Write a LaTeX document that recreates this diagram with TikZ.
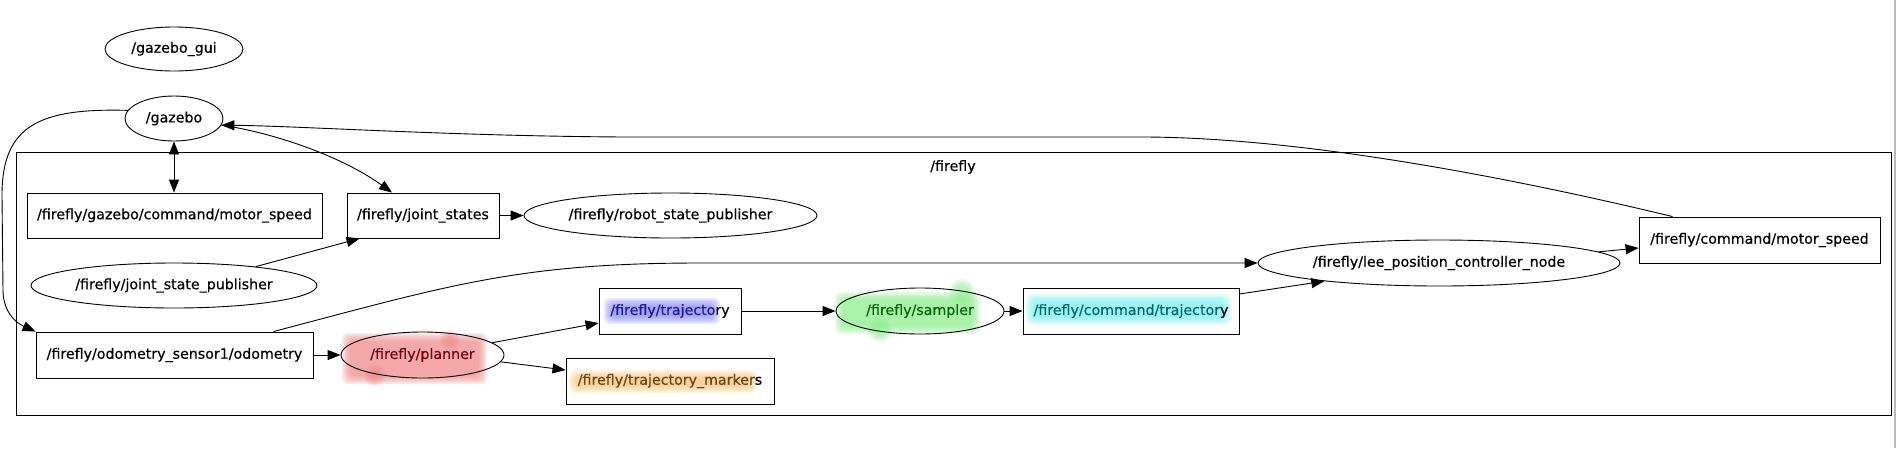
\documentclass[tikz,border=0pt]{standalone}
\usepackage{fontspec}
\setmainfont[FakeBold=0.5]{DejaVu Sans}
\usetikzlibrary{arrows.meta,shapes.geometric,calc}
\definecolor{hlred}{RGB}{240,130,130}
\definecolor{txred}{RGB}{115,5,5}
\definecolor{hlblue}{RGB}{125,125,255}
\definecolor{txblue}{RGB}{30,30,135}
\definecolor{hlgreen}{RGB}{130,238,130}
\definecolor{txgreen}{RGB}{0,105,0}
\definecolor{hlcyan}{RGB}{110,242,242}
\definecolor{txcyan}{RGB}{0,105,105}
\definecolor{hlorange}{RGB}{255,190,110}
\definecolor{txorange}{RGB}{105,70,20}
\newcommand{\softblob}[5]{%
  \foreach \k in {0,1,2,3,4,5}{%
    \fill[#1, fill opacity=0.17, rounded corners=6pt] ($(#2,#3)+(1.6*\k,1.6*\k)$) rectangle ($(#4,#5)-(1.6*\k,1.6*\k)$);
  }}
\newcommand{\softdot}[4]{%
  \foreach \k in {0,1,2,3}{%
    \fill[#1, fill opacity=0.17] (#2,#3) circle ({#4-2*\k});
  }}
\begin{document}
\begin{tikzpicture}[x=1pt,y=-1pt,
  every node/.style={font=\fontsize{14.2}{17}\selectfont, inner sep=0pt, line width=0.9pt},
  topic/.style={draw, rectangle, minimum width=#1, minimum height=46pt},
  rosnode/.style={draw, ellipse, minimum width=#1, minimum height=45pt},
  edge/.style={line width=0.9pt, -{Triangle[length=13pt,width=10pt]}},
  biedge/.style={line width=0.9pt, {Triangle[length=13pt,width=10pt]}-{Triangle[length=13pt,width=10pt]}},
]
\useasboundingbox (0,0) rectangle (1898,448);
\fill[white] (0,0) rectangle (1898,448);
\draw[gray!55, line width=1.5pt] (1895,0) -- (1895,448);

% highlights
\softblob{hlred}{342}{333}{487}{384}
\softdot{hlred}{375}{375}{11}
\softdot{hlred}{450}{340}{10}
\softblob{hlblue}{604}{298}{720}{324}
\softblob{hlgreen}{835}{292}{980}{334}
\softdot{hlgreen}{962}{292}{13}
\softdot{hlgreen}{880}{330}{12}
\softblob{hlcyan}{1026}{294}{1231}{325}
\softblob{hlorange}{569}{370}{757}{393}

% cluster
\node[draw, rectangle, minimum width=1875pt, minimum height=263pt] (cluster) at (953.5,283.5) {};
\node (clusterlbl) at (953,167) {/firefly};

% nodes
\node[rosnode=138pt, minimum height=44pt] (gazebogui) at (174,49) {/gazebo\_gui};
\node[rosnode=98pt] (gazebo) at (174,118.5) {/gazebo};
\node[topic=295pt, minimum height=45pt] (gzmotor) at (174.5,215.5) {/firefly/gazebo/command/motor\_speed};
\node[topic=152pt, minimum height=45pt] (js) at (423,215.5) {/firefly/joint\_states};
\node[rosnode=293pt] (rsp) at (670.5,215.5) {/firefly/robot\_state\_publisher};
\node[rosnode=286pt] (jsp) at (174,285.5) {/firefly/joint\_state\_publisher};
\node[topic=277pt] (odom) at (174.5,355) {/firefly/odometry\_sensor1/odometry};
\node[rosnode=163pt, minimum height=46pt] (planner) at (422.5,355) {\color{txred}/firefly/planner};
\node[topic=142pt] (traj) at (670,311) {{\color{txblue}/firefly/trajecto}ry};
\node[topic=208pt] (markers) at (670,381) {{\color{txorange}/firefly/trajectory\_marker}s};
\node[rosnode=168pt, minimum height=46pt] (sampler) at (920,311) {\color{txgreen}/firefly/sampler};
\node[topic=216pt] (cmdtraj) at (1131,311) {{\color{txcyan}/firefly/command/trajector}y};
\node[rosnode=362pt, minimum height=46pt] (lee) at (1439,263) {/firefly/lee\_position\_controller\_node};
\node[topic=241pt] (cmdmotor) at (1759.5,240) {/firefly/command/motor\_speed};

% edges
\draw[biedge] (gazebo.south) -- (gzmotor.north -| gazebo.south);
\draw[edge] (gazebo.-8) .. controls (270,132) and (340,155) .. ([xshift=-31pt]js.north);
\draw[edge] ([xshift=34pt]cmdmotor.north west) .. controls (1500,175) and (1300,138) .. (1146,137)
  -- (624,137) .. controls (450,136) and (300,126) .. (gazebo.-8);
\draw[edge] (gazebo.170) .. controls (40,108) and (2,125) .. (2,195) -- (3,290)
  .. controls (3,310) and (14,322) .. (odom.north west);
\draw[edge] (jsp.13) -- ([xshift=13pt]js.south west);
\draw[edge] (js.east) -- (rsp.west);
\draw[edge] (odom.east) -- (planner.west);
\draw[edge] ([xshift=-40pt]odom.north east) .. controls (450,285) and (520,263) .. (700,263) -- (lee.west);
\draw[edge] (planner.10) -- ([yshift=-12pt]traj.west);
\draw[edge] (planner.-5) -- ([yshift=11pt]markers.west);
\draw[edge] (traj.east) -- (sampler.west);
\draw[edge] (sampler.east) -- (cmdtraj.west);
\draw[edge] ([yshift=17pt]cmdtraj.east) -- (lee.-171);
\draw[edge] (lee.4) -- ([yshift=-8pt]cmdmotor.west);
\end{tikzpicture}
\end{document}
